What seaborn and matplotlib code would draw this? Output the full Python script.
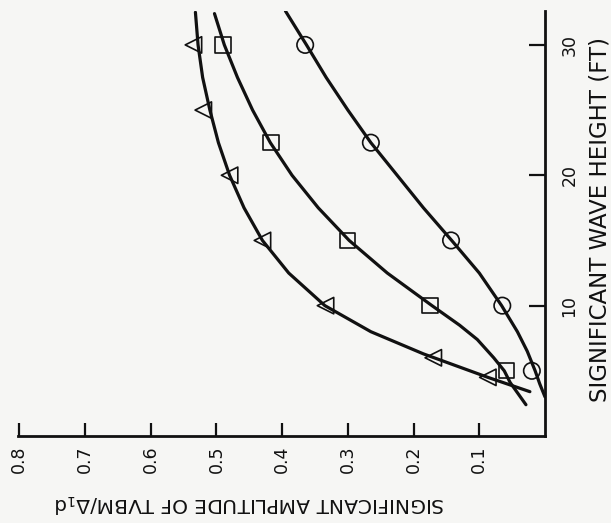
import matplotlib
matplotlib.use("Agg")
import matplotlib.pyplot as plt
import seaborn as sns
import pandas as pd

# ---- data (wave height in ft, amplitude) ----
tri_height = [4.5, 6, 10, 15, 20, 25, 30]
tri_amp = [0.087, 0.17, 0.334, 0.43, 0.48, 0.52, 0.535]

sq_height = [5, 10, 15, 22.5, 30]
sq_amp = [0.058, 0.175, 0.30, 0.417, 0.49]

circ_height = [5, 10, 15, 22.5, 30]
circ_amp = [0.02, 0.065, 0.143, 0.265, 0.365]

# faired curves
tri_curve_height = [3.4, 4.5, 6.3, 8, 10, 12.5, 15, 17.5, 20, 22.5, 25, 27.5, 30, 32.5]
tri_curve_amp = [0.023, 0.087, 0.185, 0.265, 0.335, 0.39, 0.43, 0.458, 0.48, 0.497, 0.51, 0.521, 0.528, 0.532]

sq_curve_height = [2.4, 4.1, 5, 6, 7.4, 8.5, 10, 12.5, 15, 17.5, 20, 22.5, 25, 27.5, 30, 32.4]
sq_curve_amp = [0.029, 0.053, 0.062, 0.078, 0.103, 0.13, 0.172, 0.24, 0.298, 0.345, 0.385, 0.418, 0.445, 0.468, 0.488, 0.503]

circ_curve_height = [3.0, 4, 5, 6.5, 8, 10, 12.5, 15, 17.5, 20, 22.5, 25, 27.5, 30, 32.6]
circ_curve_amp = [0.0, 0.008, 0.015, 0.027, 0.042, 0.066, 0.10, 0.142, 0.185, 0.225, 0.265, 0.30, 0.333, 0.363, 0.395]

amp_ticks = [0.1, 0.2, 0.3, 0.4, 0.5, 0.6, 0.7, 0.8]
amp_labels = ["0.1", "0.2", "0.3", "0.4", "0.5", "0.6", "0.7", "0.8"]
height_ticks = [10, 20, 30]
height_labels = ["10", "20", "30"]

xlabel = "SIGNIFICANT AMPLITUDE OF TVBM/$\\Delta_1$d"
ylabel = "SIGNIFICANT WAVE HEIGHT (FT)"

# ---- style ----
sns.set_style("white")
plt.rcParams["font.family"] = ["DejaVu Sans"]
BG = "#f6f6f4"
INK = "#111111"

fig = plt.figure(figsize=(6.11, 5.23), dpi=100, facecolor=BG)
ax = fig.add_axes([18 / 611, 87 / 523, 527 / 611, 425 / 523])
ax.set_facecolor(BG)

curves = [
    (tri_curve_amp, tri_curve_height),
    (sq_curve_amp, sq_curve_height),
    (circ_curve_amp, circ_curve_height),
]
for a, h in curves:
    df = pd.DataFrame({"amp": a, "height": h})
    sns.lineplot(data=df, x="amp", y="height", sort=False, estimator=None,
                 color=INK, linewidth=2.3, ax=ax, zorder=3)

pts = [
    (tri_amp, tri_height, "<", 140),
    (sq_amp, sq_height, "s", 120),
    (circ_amp, circ_height, "o", 140),
]
for a, h, m, s in pts:
    df = pd.DataFrame({"amp": a, "height": h})
    sns.scatterplot(data=df, x="amp", y="height", marker=m, s=s,
                    facecolor="none", edgecolor=INK, linewidth=1.2,
                    ax=ax, zorder=4)

ax.set_xlim(0.802, 0)
ax.set_ylim(0, 32.6)

for side in ["top", "left"]:
    ax.spines[side].set_visible(False)
for side in ["bottom", "right"]:
    ax.spines[side].set_linewidth(2.0)
    ax.spines[side].set_color(INK)

ax.yaxis.tick_right()
ax.yaxis.set_label_position("right")

ax.set_xticks(amp_ticks)
ax.set_xticklabels(amp_labels)
ax.set_yticks(height_ticks)
ax.set_yticklabels(height_labels)

ax.tick_params(axis="x", direction="in", length=9.5, width=1.6, pad=7,
               labelsize=12.5, labelrotation=90, colors=INK, bottom=True)
ax.tick_params(axis="y", direction="in", length=11.5, width=1.6, pad=11,
               labelsize=12.5, labelrotation=90, colors=INK, right=True, left=False)
for lab in ax.get_yticklabels():
    lab.set_va("center")

ax.set_xlabel(xlabel, rotation=180, fontsize=14.5, color=INK, va="center", ha="center")
ax.xaxis.set_label_coords(0.44, -0.158)
ax.set_ylabel(ylabel, rotation=90, fontsize=16.5, color=INK, va="center", ha="center")
ax.yaxis.set_label_coords(1.104, 0.51)

fig.savefig("out.png", dpi=100, facecolor=BG)
